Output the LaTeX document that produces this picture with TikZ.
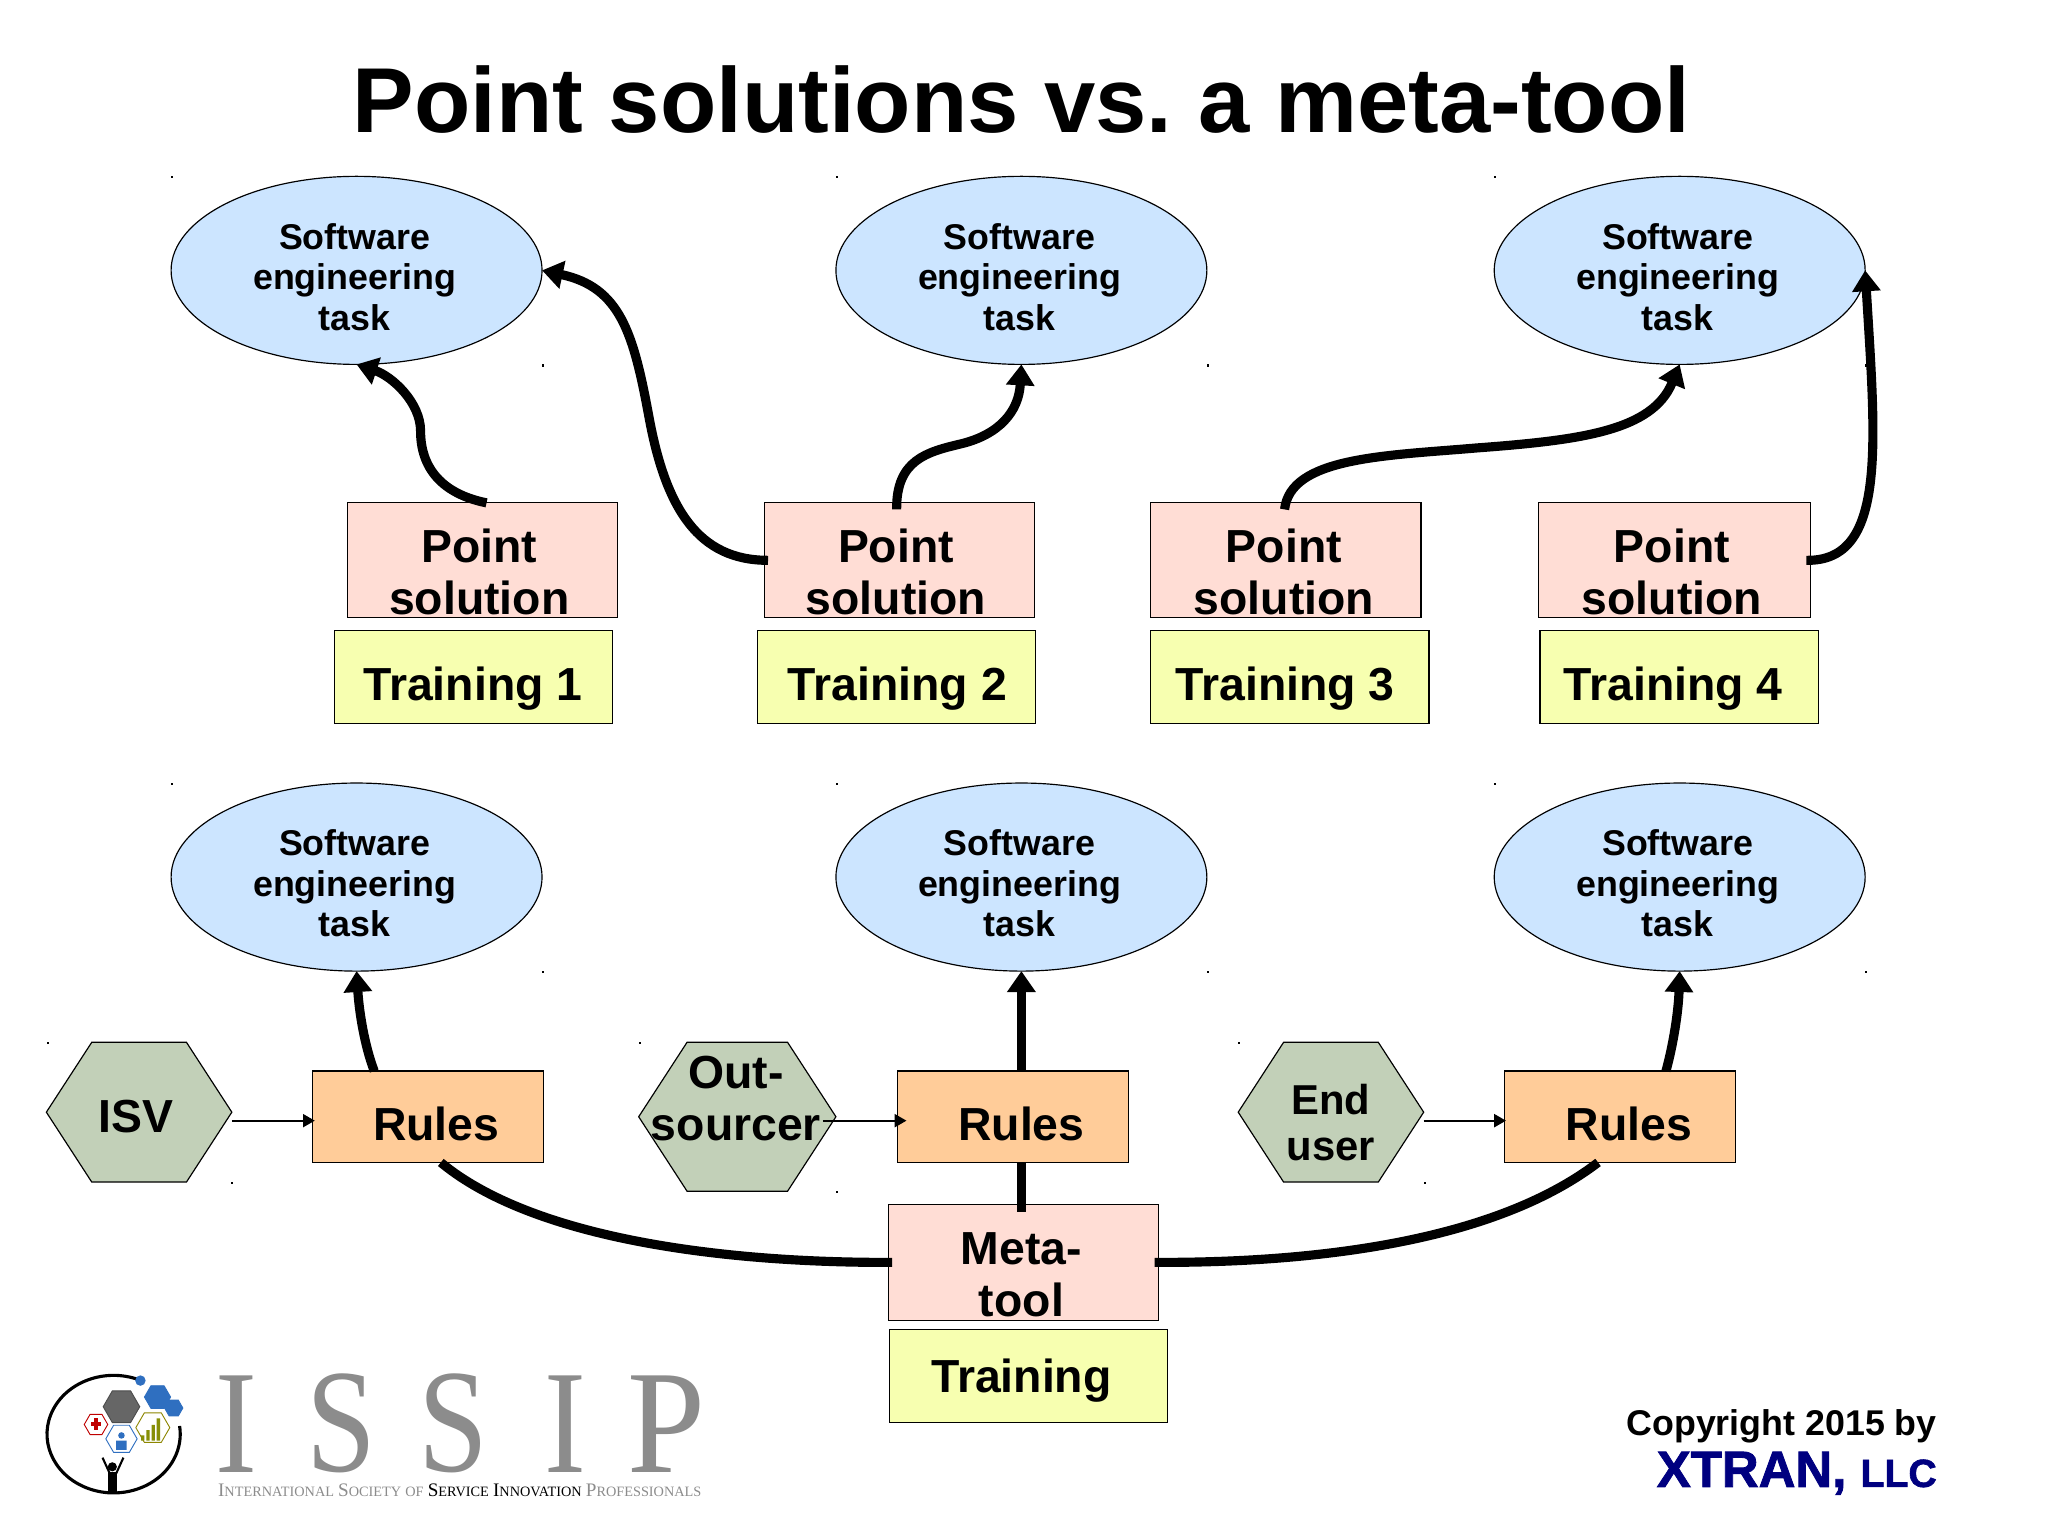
\documentclass[tikz,border=0pt]{standalone}
\usepackage{fontspec}
\setmainfont{Liberation Sans}
\newfontfamily\logoserif{Liberation Serif}
\newfontface\xtranface[FakeBold=1.6]{Liberation Sans Bold}
\usetikzlibrary{arrows.meta,shapes.geometric,shapes.symbols,calc}
\definecolor{taskblue}{HTML}{CCE5FF}
\definecolor{pointpink}{HTML}{FFDDD5}
\definecolor{trainyellow}{HTML}{F7FFB0}
\definecolor{rulesorange}{HTML}{FFCC99}
\definecolor{hexgreen}{HTML}{C2D0B8}
\definecolor{xtranblue}{HTML}{000080}
\definecolor{logogray}{HTML}{8C8C8C}
\definecolor{logoblue}{HTML}{2F6FC0}
\newcommand{\LogoHex}[5]{\draw[#4,fill=#5,line width=0.7pt] (#1+#3,#2) -- ++(120:#3) -- ++(180:#3) -- ++(240:#3) -- ++(300:#3) -- ++(0:#3) -- cycle;}
\newcommand{\capsm}[2]{{\fontsize{11.5}{11.5}\selectfont #1}{\fontsize{8.6}{8.6}\selectfont #2}}
\tikzset{
  x=1pt,y=-1pt,
  outline/.style={draw=black,line width=0.9pt,inner sep=0pt,outer sep=0pt},
  taskshape/.style={outline,ellipse,fill=taskblue,minimum width=284,minimum height=144},
  pointbox/.style={outline,rectangle,fill=pointpink,minimum width=207,minimum height=88},
  trainbox/.style={outline,rectangle,fill=trainyellow,minimum width=213,minimum height=71},
  rulesbox/.style={outline,rectangle,fill=rulesorange,minimum width=177,minimum height=70},
  hexshape/.style={outline,signal,signal to=east and west,signal pointer angle=114,fill=hexgreen},
  lab/.style={align=center,inner sep=0pt,text=black},
  smalltxt/.style={lab,font=\fontsize{27.4}{31}\selectfont\bfseries},
  bigtxt/.style={lab,font=\fontsize{35.5}{40}\selectfont\bfseries},
  endtxt/.style={lab,font=\fontsize{32}{35}\selectfont\bfseries},
  thick link/.style={line width=7pt,-{Triangle[length=16pt,width=21pt]},line cap=butt},
  plain link/.style={line width=7pt,line cap=butt},
  thin link/.style={line width=1.3pt,-{Triangle[length=9pt,width=10pt]}}
}
\begin{document}
\begin{tikzpicture}
\useasboundingbox (0,0) rectangle (1568,1175);
\fill[white] (0,0) rectangle (1568,1175);
\node[font=\fontsize{70.6}{72}\selectfont\bfseries,inner sep=0pt] (title) at (782,76.5) {\frenchspacing Point solutions vs. a meta-tool};
% task ellipses
\foreach \nm/\cx/\cy in {e1/273/207,e2/782/207,e3/1286/207,e4/273/671.5,e5/782/671.5,e6/1286/671.5}{
  \node[taskshape,label={[smalltxt,xshift=-1.5pt,yshift=-5pt]center:Software\\engineering\\task}] (\nm) at (\cx,\cy) {};
  \fill (\cx-142,\cy-72) rectangle ++(1.6,1.6);
  \fill (\cx+142,\cy+72) rectangle ++(1.6,1.6);
}
% point solutions
\foreach \nm/\cx/\dx in {p1/369.5/-2.5,p2/688.5/-2.5,p3/984.5/-1.5}{
  \node[pointbox,label={[bigtxt,xshift=\dx pt,yshift=-9pt]center:Point\\solution}] (\nm) at (\cx,429) {};
}
\node[pointbox,minimum width=208,label={[bigtxt,xshift=-2pt,yshift=-9pt]center:Point\\solution}] (p4) at (1282,429) {};
% trainings
\foreach \nm/\cx/\dx/\n in {t1/362.5/-0.5/1,t2/686.5/0.5/2,t3/987.5/-3.5/3,t4/1285.5/-4.5/4}{
  \node[trainbox,label={[bigtxt,xshift=\dx pt,yshift=-9pt]center:Training \n}] (\nm) at (\cx,518.5) {};
}
% rules
\foreach \nm/\cx in {r1/327.5,r2/775.5,r3/1240.5}{
  \node[rulesbox,label={[bigtxt,xshift=6.5pt,yshift=-5.5pt]center:Rules}] (\nm) at (\cx,855) {};
}
% meta-tool
\node[pointbox,minimum height=89,label={[bigtxt,xshift=-1.5pt,yshift=-9.5pt]center:Meta-\\tool}] (m) at (783.5,966.5) {};
\node[trainbox,label={[bigtxt,xshift=-5.5pt,yshift=-3.5pt]center:Training}] (tm) at (787.5,1053.5) {};
% actors
\node[hexshape,minimum width=142,minimum height=107,label={[bigtxt,xshift=-2.5pt,yshift=-3pt]center:ISV}] (h1) at (106.5,851.5) {};
\node[hexshape,minimum width=151,minimum height=114,label={[bigtxt,xshift=-1pt,yshift=14pt]center:Out-\\sourcer}] (h2) at (564.5,855) {};
\node[hexshape,minimum width=142,minimum height=107,label={[endtxt,xshift=0pt,yshift=-8pt]center:End\\user}] (h3) at (1019,851.5) {};
% specks at hexagon corners
\foreach \a/\b in {36/798,177/905,489/798,640/912,948/798,1090/905}{\fill (\a,\b) rectangle ++(1.6,1.6);}
% connectors: point solutions to tasks
\draw[thick link] ($(p1.north)+(3,0)$) .. controls (338,378) and (322,358) .. (322,330) .. controls (322,308) and (300,288) .. (e1.south);
\draw[thick link] (p2.west) ++(3,0) .. controls (535,429) and (510,390) .. (497,320) .. controls (485,255) and (475,220) .. (e1.east);
\draw[thick link] ($(p2.north)+(-2,5)$) .. controls (686,352) and (710,346) .. (735,340) .. controls (765,333) and (780,315) .. (e2.south);
\draw[thick link] ($(p3.north)+(-1,5)$) .. controls (988,350) and (1060,349) .. (1130,343) .. controls (1210,337) and (1265,330) .. (e3.south);
\draw[thick link] (p4.east) ++(-3,0) .. controls (1445,430) and (1436,340) .. (e3.east);
% connectors: rules to tasks
\draw[thick link] ($(r1.north)+(-41,0)$) .. controls (279,800) and (275,775) .. (e4.south);
\draw[thick link] (r2.north -| e5.south) -- (e5.south);
\draw[thick link] ($(r3.north)+(35,0)$) .. controls (1281,800) and (1285,775) .. (e6.south);
% connectors: actors to rules
\draw[thin link] (h1.east |- 0,858) -- (241,858);
\draw[thin link] (630,858) -- (694,858);
\draw[thin link] (h3.east |- 0,858) -- (1153,858);
% connectors: meta-tool
\draw[plain link] ($(r1.south)+(10,0)$) .. controls (410,950) and (560,967) .. ($(m.west)+(3,0)$);
\draw[plain link] ($(m.east)+(-3,0)$) .. controls (1010,967) and (1145,950) .. ($(r3.south)+(-17,0)$);
\draw[plain link] (r2.south -| m.north) ++(-1.5,0) -- ++(0,38);
% logo: ISSIP
\foreach \lt/\lx/\sc in {I/181/0.85,S/261/0.85,S/347/0.85,I/433/0.85,P/510/0.95}{
  \node[font=\logoserif\fontsize{113}{113}\selectfont,text=logogray,inner sep=0pt,xscale=\sc] at (\lx,1090) {\lt};
}
\node[font=\logoserif,inner sep=0pt,text=logogray] (logosub) at (352,1141) {\resizebox{370pt}{!}{\capsm{I}{NTERNATIONAL} \capsm{S}{OCIETY} \capsm{}{OF} {\color{black}\capsm{S}{ERVICE} \capsm{I}{NNOVATION}} \capsm{P}{ROFESSIONALS}}};
% logo: emblem
\draw[black,line width=2.4pt] (87,1098) ++(-65:51 and 45) arc[start angle=-65,end angle=-368,x radius=51,y radius=45];
\fill[logoblue] (107.5,1057) circle (4);
\LogoHex{120.6}{1069.6}{10}{logoblue}{logoblue}
\LogoHex{133}{1078}{7}{logoblue}{logoblue}
\LogoHex{93}{1077}{14}{black!70}{black!60}
\LogoHex{73.5}{1090.6}{9}{red!75!black}{white}
\LogoHex{117}{1093}{13}{olive}{white}
\LogoHex{93}{1101.6}{12}{logoblue}{white}
\fill[red!75!black] (70,1089) rectangle (77,1092);
\fill[red!75!black] (72,1086) rectangle (75,1095);
\fill[olive!85!green] (108,1099) rectangle (110.5,1103) (112,1095) rectangle (114.5,1103) (116,1091) rectangle (118.5,1103) (120,1086) rectangle (122.5,1103);
\fill[logoblue] (93,1099) circle (2.5) (89,1103) rectangle (97,1110);
\fill[black] (86,1123) circle (3.5);
\fill[black] (83,1127) rectangle (89.5,1142);
\draw[black,line width=1.6pt] (84,1128) -- (78.5,1116) (89,1128) -- (94.5,1116);
% copyright
\node[font=\fontsize{27.4}{27}\selectfont\bfseries,anchor=east,inner sep=0pt] (copy) at (1483,1092) {Copyright 2015 by};
\node[font=\xtranface\fontsize{39}{39}\selectfont,text=xtranblue,anchor=east,inner sep=0pt] (xtran) at (1483,1128) {XTRAN, {\fontsize{30}{30}\selectfont LLC}};
\end{tikzpicture}
\end{document}
